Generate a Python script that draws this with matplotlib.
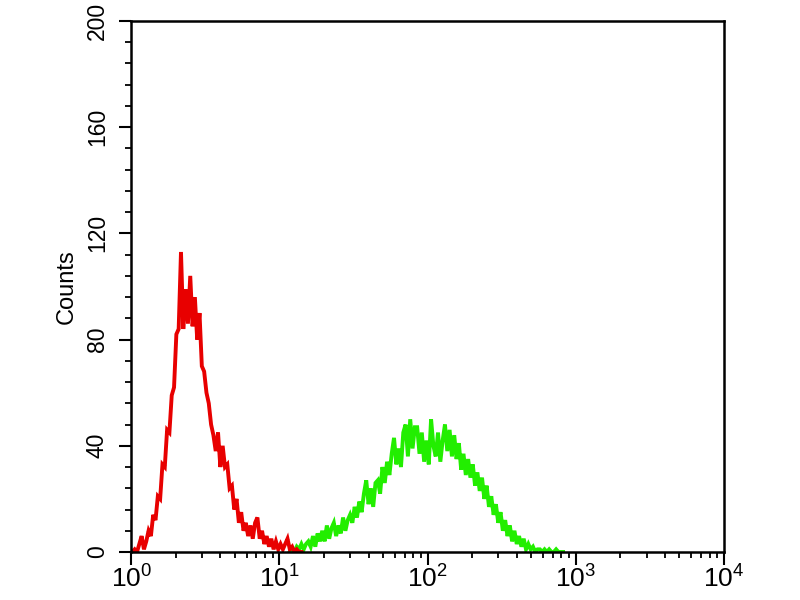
import numpy as np
import matplotlib
matplotlib.use('Agg')
import matplotlib.pyplot as plt
from matplotlib.ticker import FixedLocator, MultipleLocator

# histogram channels: 64 per decade, 4 decades (log scale)
ch_per_decade = 64

# red peak (control), counts per channel starting at channel 0
red_start = 0
red_counts = [0, 1, 0, 3, 6, 1, 4, 8, 6, 14,
              12, 21, 20, 33, 32, 46, 45, 59, 62, 82,
              84, 113, 84, 99, 86, 104, 85, 96, 80, 90,
              70, 68, 60, 56, 48, 44, 38, 45, 32, 40,
              32, 33, 24, 25, 16, 20, 11, 15, 8, 11,
              6, 10, 5, 11, 13, 5, 8, 3, 6, 2,
              5, 1, 4, 1, 3, 1, 3, 5, 1, 2,
              0, 1, 0, 0]

# green peak (stained), counts per channel starting at channel 68
green_start = 68
green_counts = [0, 1, 0, 2, 1, 3, 1, 3, 4, 2,
                6, 2, 7, 4, 8, 4, 10, 5, 9, 11,
                6, 10, 7, 13, 8, 12, 14, 11, 17, 13,
                19, 15, 22, 27, 18, 24, 17, 26, 27, 22,
                32, 26, 34, 29, 37, 43, 33, 39, 32, 45,
                48, 36, 50, 39, 47, 47, 37, 45, 34, 42,
                33, 50, 40, 36, 45, 34, 42, 48, 38, 46,
                36, 44, 35, 41, 31, 37, 29, 35, 28, 33,
                25, 30, 23, 28, 20, 25, 17, 21, 14, 18,
                11, 15, 8, 12, 6, 10, 4, 8, 3, 6,
                2, 5, 1, 3, 1, 2, 0, 1, 1, 0,
                1, 0, 1, 0, 0, 1, 0, 0, 0]

y_ticks = [0, 40, 80, 120, 160, 200]
x_ticks = [1, 10, 100, 1000, 10000]
x_tick_labels = ['$\\mathregular{10^{0}}$', '$\\mathregular{10^{1}}$',
                 '$\\mathregular{10^{2}}$', '$\\mathregular{10^{3}}$',
                 '$\\mathregular{10^{4}}$']

plt.rcParams['font.family'] = ['Liberation Sans', 'DejaVu Sans']


def channel_x(start, n):
    '''channel index -> fluorescence value (bin centre on log axis)'''
    return 10 ** ((np.arange(n) + start + 0.5) / ch_per_decade)


fig = plt.figure(figsize=(8, 6), dpi=100)
ax = fig.add_axes([0.164, 0.08, 0.741, 0.885])

ax.plot(channel_x(green_start, len(green_counts)), green_counts,
        color='#22ee00', lw=2.8, solid_joinstyle='miter')
ax.plot(channel_x(red_start, len(red_counts)), red_counts,
        color='#e80000', lw=2.8, solid_joinstyle='miter')

ax.set_xscale('log')
ax.set_xlim(1, 10000)
ax.set_ylim(0, 200)

ax.set_xticks(x_ticks)
ax.set_xticklabels(x_tick_labels, fontsize=19)
ax.xaxis.set_minor_locator(FixedLocator(
    [m * 10 ** d for d in range(4) for m in range(2, 10)]))
ax.xaxis.set_minor_formatter(plt.NullFormatter())

ax.set_yticks(y_ticks)
ax.set_yticklabels([str(v) for v in y_ticks], fontsize=16.5, rotation=90, va='center')
ax.yaxis.set_minor_locator(MultipleLocator(8))

ax.tick_params(which='major', direction='out', length=9, width=1.5, top=False, right=False)
ax.tick_params(which='minor', direction='out', length=4.5, width=1.3, top=False, right=False)
ax.tick_params(axis='x', which='major', pad=1)
ax.tick_params(axis='y', which='major', pad=7)

for s in ax.spines.values():
    s.set_linewidth(1.8)

ax.set_ylabel('Counts', fontsize=17, labelpad=6)

fig.savefig('out.png', dpi=100)
